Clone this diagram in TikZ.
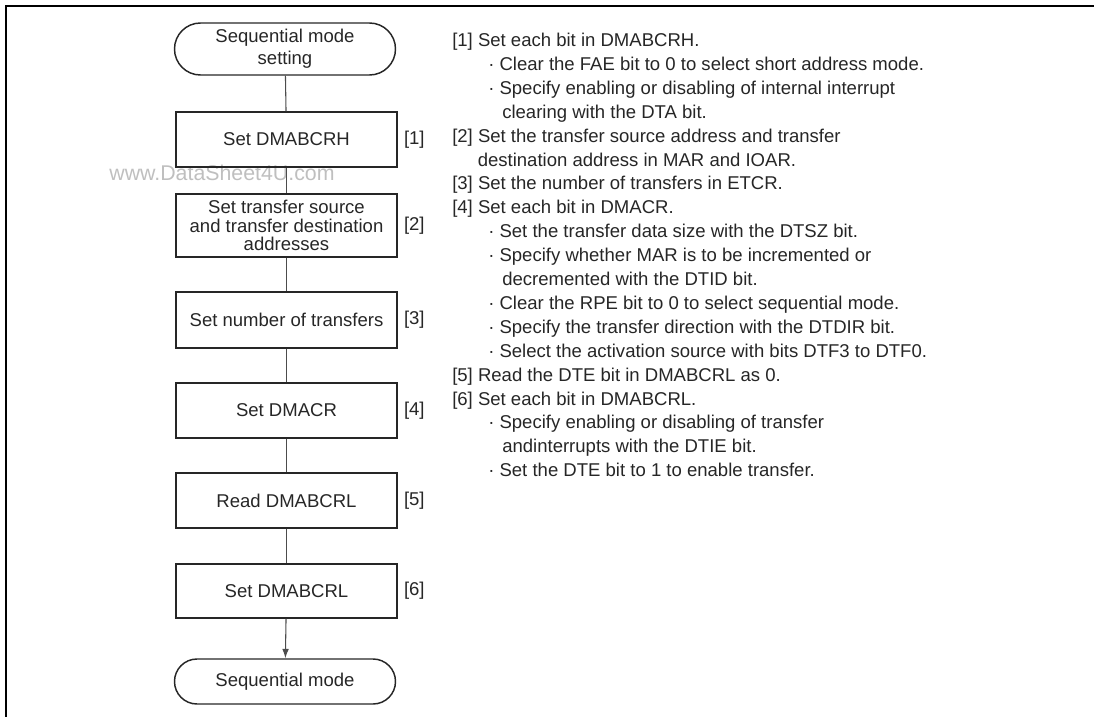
\documentclass[tikz,border=0pt]{standalone}
\usepackage{fontspec}
\setmainfont{Liberation Sans}
\usetikzlibrary{shapes.misc,arrows.meta}
\tikzset{
  stepbox/.style={draw=black!85, line width=1.1pt, minimum width=165.75pt,
    minimum height=41.25pt, align=center, inner sep=0pt},
  term/.style={stepbox, rounded rectangle},
  link/.style={draw=black!70, line width=0.8pt},
}
\begin{document}
\begin{tikzpicture}[x=0.75pt,y=-0.75pt,
  font=\fontsize{13.9}{16.5}\selectfont, text=black!85]
  \useasboundingbox (0,0) rectangle (1094,717);
  \draw[line width=1.5pt](1094,6)--(6,6)--(6,717);
  \node[text=black!25, font=\fontsize{16}{18}\selectfont] (wm) at (222,173) {www.DataSheet4U.com};
  \node[term, minimum height=39pt] (start) at (285,49) {Sequential mode\\setting};
  \node[stepbox] (b1) at (286.5,139.5) {Set DMABCRH};
  \node[stepbox, minimum height=47.25pt, font=\fontsize{13.9}{13.7}\selectfont] (b2) at (286.5,225.5)
    {Set transfer source\\and transfer destination\\addresses};
  \node[stepbox, minimum height=42pt] (b3) at (286.5,320) {Set number of transfers};
  \node[stepbox] (b4) at (286.5,410.5) {Set DMACR};
  \node[stepbox] (b5) at (286.5,500.5) {Read DMABCRL};
  \node[stepbox, minimum height=40.5pt] (b6) at (286.5,591) {Set DMABCRL};
  \node[term, minimum height=33.75pt] (stop) at (285,681.5) {Sequential mode};
  \foreach \i in {1,...,6}
    \node[anchor=west, inner sep=0pt] (l\i) at ([xshift=4.5pt]b\i.east) {[\i]};
  \draw[link](start)--(b1);
  \draw[link](b1)--(b2);
  \draw[link](b2)--(b3);
  \draw[link](b3)--(b4);
  \draw[link](b4)--(b5);
  \draw[link](b5)--(b6);
  \draw[link,-{Latex[length=7pt,width=5pt]}](b6)--(stop);
  \foreach \x/\t [count=\k] in {
    452/[1] Set each bit in DMABCRH.,
    488/· Clear the FAE bit to 0 to select short address mode.,
    488/· Specify enabling or disabling of internal interrupt,
    502/clearing with the DTA bit.,
    452/[2] Set the transfer source address and transfer,
    477.5/destination address in MAR and IOAR.,
    452/[3] Set the number of transfers in ETCR.,
    452/[4] Set each bit in DMACR.,
    488/· Set the transfer data size with the DTSZ bit.,
    488/· Specify whether MAR is to be incremented or,
    502/decremented with the DTID bit.,
    488/· Clear the RPE bit to 0 to select sequential mode.,
    488/· Specify the transfer direction with the DTDIR bit.,
    488/· Select the activation source with bits DTF3 to DTF0.,
    452/[5] Read the DTE bit in DMABCRL as 0.,
    452/[6] Set each bit in DMABCRL.,
    488/· Specify enabling or disabling of transfer,
    502/andinterrupts with the DTIE bit.,
    488/· Set the DTE bit to 1 to enable transfer.}
    \node[anchor=base west, inner sep=0pt] (t\k) at (\x,{46.5+(\k-1)*23.9}) {\t};
\end{tikzpicture}
\end{document}
